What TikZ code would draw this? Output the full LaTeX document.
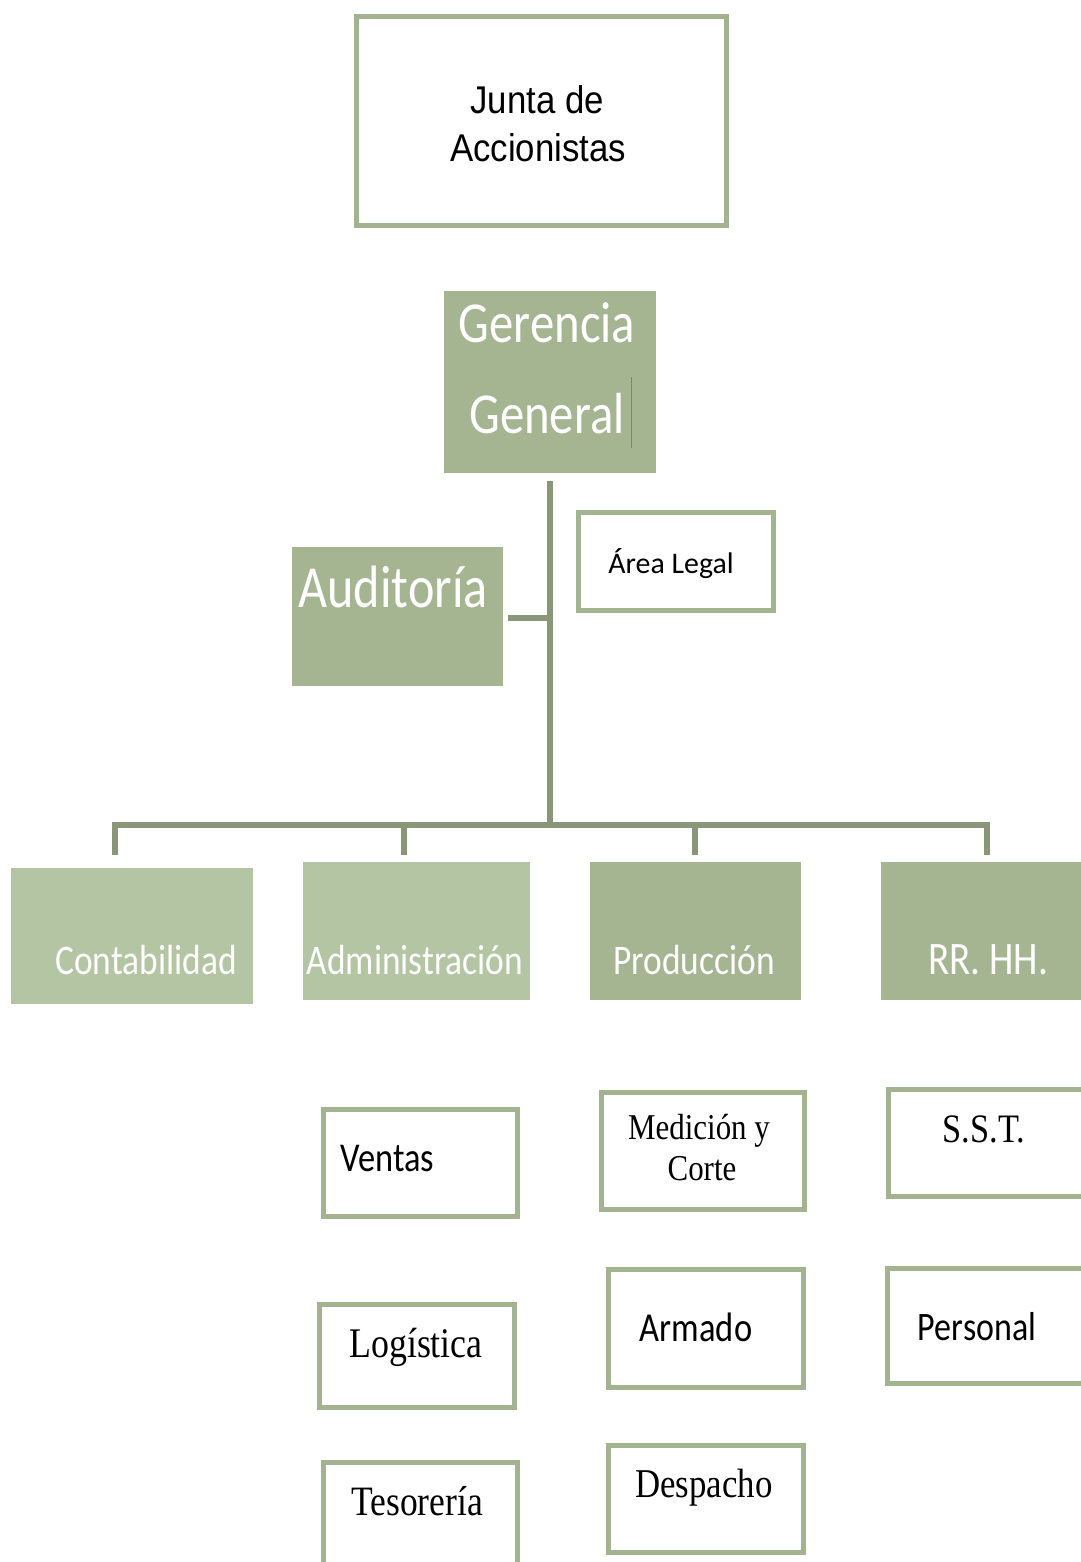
\documentclass[tikz,border=0pt]{standalone}
\usepackage{fontspec}
\usetikzlibrary{fit}
\newfontfamily\condsans[FakeStretch=0.84]{Carlito}
\newfontfamily\plainsans{Carlito}
\newfontfamily\condserif[FakeStretch=0.85]{Liberation Serif}
\newfontfamily\headsans[FakeStretch=0.9]{Liberation Sans}
\definecolor{boxgreen}{HTML}{A5B592}
\definecolor{palegreen}{HTML}{B3C5A2}
\definecolor{rimgreen}{HTML}{A3B38F}
\definecolor{linegreen}{HTML}{8A9678}
\tikzset{
 solidbox/.style={fill=boxgreen, inner sep=0pt},
 palebox/.style={fill=palegreen, inner sep=0pt},
 outlinebox/.style={draw=rimgreen, line width=1mm, fill=white, inner sep=0pt},
 link/.style={draw=linegreen, line width=1.1mm},
 whitetext/.style={text=white, inner sep=0pt, anchor=base},
 darktext/.style={text=black, inner sep=0pt, anchor=base},
}
\begin{document}
\begin{tikzpicture}[x=0.02cm, y=-0.02cm]
 \useasboundingbox (0,0) rectangle (1081,1562);

 % top of the chart
 \node[outlinebox, fit={(356.5,16.5) (726.5,225.5)}] (junta) {};
 \node[darktext, font=\headsans\fontsize{22}{26}\selectfont] (junta1) at (537,113) {Junta de};
 \node[darktext, font=\headsans\fontsize{22}{26}\selectfont] (junta2) at (538,161) {Accionistas};

 \node[solidbox, fit={(444,291) (656,473)}] (gerencia) {};
 \node[whitetext, font=\condsans\fontsize{33}{40}\selectfont] (gerencia1) at (547,342) {Gerencia};
 \node[whitetext, font=\condsans\fontsize{33}{40}\selectfont] (gerencia2) at (547,433) {General};
 \draw[gray, line width=0.4pt] (631,377) -- (631,448);

 \node[solidbox, fit={(292,547) (503,686)}] (auditoria) {};
 \node[whitetext, font=\condsans\fontsize{34}{40}\selectfont] (auditoria1) at (393,607) {Auditoría};

 \node[outlinebox, fit={(578.5,512.5) (773.5,610.5)}] (legal) {};
 \node[darktext, font=\plainsans\fontsize{17}{20}\selectfont] (legal1) at (671,573) {Área Legal};

 % connectors
 \coordinate (hub) at (550,825);
 \coordinate (audjoin) at (550,618);
 \foreach \x [count=\i] in {115,404,695,987}
   \coordinate (drop\i) at (\x,855);
 \draw[link] (gerencia.south) ++(0,8) -- (hub);
 \draw[link] (auditoria.east |- audjoin) ++(5,0) -- (audjoin);
 \draw[link] (drop1) |- (hub) -| (drop4);
 \draw[link] (drop2) -- (drop2 |- hub);
 \draw[link] (drop3) -- (drop3 |- hub);

 % departments
 \node[palebox, fit={(11,868) (253,1004)}] (conta) {};
 \node[palebox, fit={(303,862) (530,1000)}] (admin) {};
 \node[solidbox, fit={(590,862) (801,1000)}] (produ) {};
 \node[solidbox, fit={(881,862) (1090,1000)}] (rrhh) {};
 \node[whitetext, font=\condsans\fontsize{24}{28}\selectfont] (conta1) at (146,974) {Contabilidad};
 \node[whitetext, font=\condsans\fontsize{24}{28}\selectfont] (admin1) at (415,974) {Administración};
 \node[whitetext, font=\condsans\fontsize{24}{28}\selectfont] (produ1) at (694,974) {Producción};
 \node[whitetext, font=\condsans\fontsize{26.5}{30}\selectfont] (rrhh1) at (988,974) {RR. HH.};

 % sub areas
 \node[outlinebox, fit={(323.5,1109.5) (517.5,1216.5)}] (ventas) {};
 \node[outlinebox, fit={(319.5,1304.5) (514.5,1407.5)}] (logistica) {};
 \node[outlinebox, fit={(323.5,1462.5) (517.5,1575)}] (tesoreria) {};
 \node[outlinebox, fit={(601.5,1092.5) (804.5,1209.5)}] (medicion) {};
 \node[outlinebox, fit={(608.5,1269.5) (803.5,1387.5)}] (armado) {};
 \node[outlinebox, fit={(608.5,1445.5) (803.5,1552.5)}] (despacho) {};
 \node[outlinebox, fit={(888.5,1089.5) (1090,1196.5)}] (sst) {};
 \node[outlinebox, fit={(887.5,1268.5) (1090,1383.5)}] (personal) {};

 \node[darktext, anchor=base west, font=\condsans\fontsize{23.3}{28}\selectfont] (ventas1) at (340,1171) {Ventas};
 \node[darktext, font=\condserif\fontsize{24}{28}\selectfont] (logistica1) at (416,1357) {Logística};
 \node[darktext, font=\condserif\fontsize{23.8}{28}\selectfont] (tesoreria1) at (417,1515) {Tesorería};
 \node[darktext, font=\condserif\fontsize{20.7}{24}\selectfont] (medicion1) at (699,1139) {Medición y};
 \node[darktext, font=\condserif\fontsize{20.7}{24}\selectfont] (medicion2) at (702,1180) {Corte};
 \node[darktext, font=\condsans\fontsize{23.4}{28}\selectfont] (armado1) at (696,1341) {Armado};
 \node[darktext, font=\condserif\fontsize{23.3}{28}\selectfont] (despacho1) at (704,1497) {Despacho};
 \node[darktext, font=\condserif\fontsize{23}{28}\selectfont] (sst1) at (984,1142) {S.S.T.};
 \node[darktext, font=\condsans\fontsize{23}{28}\selectfont] (personal1) at (977,1340) {Personal};
\end{tikzpicture}
\end{document}
